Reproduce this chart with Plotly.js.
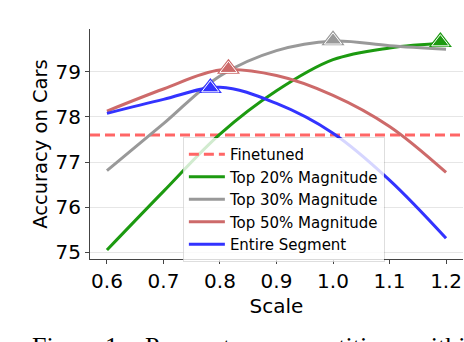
<!DOCTYPE html>
<html>
<head>
<meta charset="utf-8">
<script src="https://cdn.plot.ly/plotly-3.0.1.min.js"></script>
<style>
  html, body { margin: 0; padding: 0; background: #fff; }
  #chart { width: 464px; height: 342px; }
</style>
</head>
<body>
<div id="chart"></div>
<script>
// scale values on the x axis
var scale = [0.6, 0.7, 0.8, 0.9, 1.0, 1.1, 1.2];
// accuracy on Cars for each setting
var top20 = [75.05, 76.35, 77.62, 78.58, 79.27, 79.53, 79.64];
var top30 = [76.81, 77.85, 78.91, 79.47, 79.68, 79.58, 79.50];
var top50 = [78.13, 78.62, 79.04, 78.92, 78.48, 77.79, 76.77];
var entire = [78.08, 78.39, 78.66, 78.30, 77.64, 76.60, 75.31];
var finetuned = 77.6;
// best point of each curve (marked with a triangle)
var peakX = [1.19, 1.0, 0.815, 0.783];
var peakY = [79.66, 79.70, 79.07, 78.64];
var tickVals = [0.6, 0.7, 0.8, 0.9, 1.0, 1.1, 1.2];
var yTicks = [75, 76, 77, 78, 79];

var green = "#1c9a10", gray = "#999999", red = "#cd6a6a", blue = "#3333ff";
var xr = [0.57, 1.23];

function curve(name, y, color) {
  return {x: scale, y: y, name: name, type: "scatter", mode: "lines",
          line: {color: color, width: 3, shape: "spline", smoothing: 1}};
}

var data = [
  {x: xr, y: [finetuned, finetuned], name: "Finetuned", type: "scatter", mode: "lines",
   line: {color: "#ff6666", width: 3, dash: "10px,5px"}},
  curve("Top 20% Magnitude", top20, green),
  curve("Top 30% Magnitude", top30, gray),
  curve("Top 50% Magnitude", top50, red),
  curve("Entire Segment", entire, blue),
  {x: peakX, y: peakY, type: "scatter", mode: "markers", showlegend: false, hoverinfo: "skip",
   marker: {symbol: "triangle-up", size: 20, color: [green, gray, red, blue]}},
  {x: peakX, y: peakY, type: "scatter", mode: "markers", showlegend: false, hoverinfo: "skip",
   marker: {symbol: "triangle-up", size: 15, color: [green, gray, red, blue],
            line: {color: "white", width: 1}}}
];

// cut-off caption line at the bottom of the crop
var caption = [["Figure", 30], ["1:", 103], ["Parameter", 143], ["competition", 267], ["within", 410]];
var annotations = caption.map(function (c) {
  return {text: c[0], xref: "paper", yref: "paper", x: (c[1] - 90) / 373, y: (259 - 363) / 230,
          xanchor: "left", yanchor: "bottom", showarrow: false,
          font: {family: "Liberation Serif", size: 26, color: "#000"}};
});

var layout = {
  width: 464, height: 342,
  margin: {l: 90, r: 1, t: 29, b: 83},
  paper_bgcolor: "white", plot_bgcolor: "white",
  font: {family: "DejaVu Sans", color: "#000"},
  showlegend: true,
  xaxis: {
    range: xr, tickvals: tickVals, tickformat: ".1f",
    showgrid: false, zeroline: false,
    showline: true, linecolor: "#444", linewidth: 1,
    ticks: "outside", ticklen: 4, tickcolor: "#444",
    tickfont: {size: 20},
    title: {text: "Scale", font: {size: 20}, standoff: 6}
  },
  yaxis: {
    range: [74.85, 79.95], tickvals: yTicks,
    showgrid: true, gridcolor: "#e6e6e6", gridwidth: 1, zeroline: false,
    showline: true, linecolor: "#444", linewidth: 1,
    ticks: "outside", ticklen: 4, tickcolor: "#444",
    tickfont: {size: 20},
    title: {text: "Accuracy on Cars", font: {size: 19.5}, standoff: 2}
  },
  legend: {
    x: 0.249, y: 0.530, xanchor: "left", yanchor: "top",
    bgcolor: "rgba(255,255,255,0.8)", bordercolor: "rgba(0,0,0,0.13)", borderwidth: 1,
    font: {size: 15}, tracegroupgap: 0, itemwidth: 36
  },
  annotations: annotations
};

Plotly.newPlot("chart", data, layout, {displayModeBar: false, staticPlot: true});
</script>
</body>
</html>
